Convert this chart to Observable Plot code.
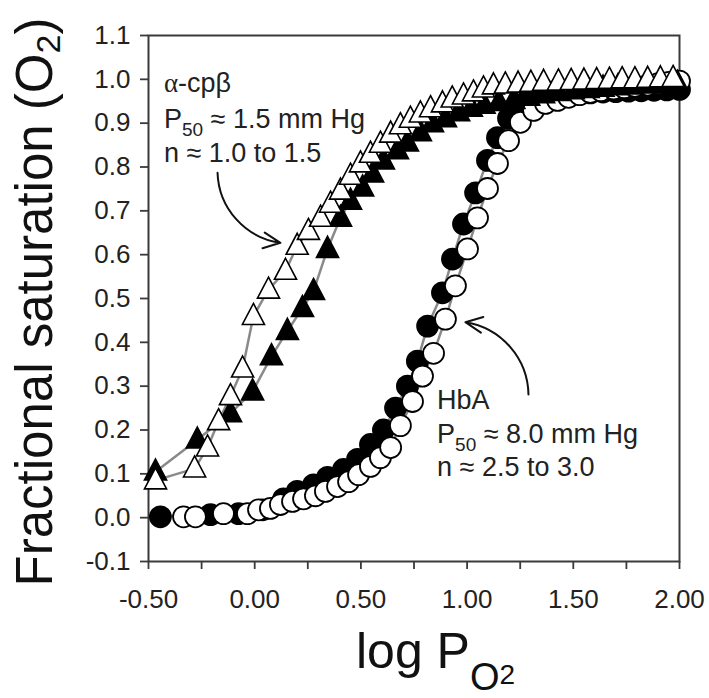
<!DOCTYPE html>
<html><head><meta charset="utf-8">
<script src="https://cdn.jsdelivr.net/npm/d3@7"></script>
<script src="https://cdn.jsdelivr.net/npm/@observablehq/plot@0.6"></script>
<style>
html,body{margin:0;padding:0;background:#fff;}
#chart svg{display:block;}
</style></head><body><div id="chart"></div>
<script>
// ---- data: alpha-cp-beta, open triangles ----
const openTriX = [-0.467,-0.283,-0.222,-0.17,-0.114,-0.057,-0.006,0.065,0.145,0.2,0.253,0.31,0.357,0.404,0.451,0.498,0.545,0.592,0.64,0.686,0.733,0.78,0.828,0.884,0.93,0.983,1.03,1.077,1.124,1.18,1.24,1.30,1.36,1.43,1.49,1.55,1.61,1.67,1.73,1.79,1.85,1.91,1.97];
const openTriY = [0.085,0.112,0.16,0.22,0.277,0.34,0.46,0.52,0.563,0.62,0.654,0.684,0.716,0.746,0.78,0.808,0.83,0.853,0.876,0.895,0.91,0.922,0.934,0.945,0.956,0.963,0.97,0.979,0.986,0.988,0.99,0.992,0.994,0.995,0.996,0.997,0.998,0.999,1.0,1.0,1.001,1.002,1.003];
// ---- alpha-cp-beta, filled triangles ----
const fillTriX = [-0.467,-0.27,-0.114,-0.01,0.079,0.154,0.225,0.277,0.343,0.404,0.451,0.508,0.555,0.606,0.672,0.719,0.78,0.837,0.898,0.96,1.02,1.08,1.15,1.22,1.29,1.36,1.43,1.50,1.57,1.64,1.71,1.78,1.85,1.92,1.99];
const fillTriY = [0.105,0.178,0.238,0.288,0.368,0.426,0.478,0.517,0.613,0.684,0.723,0.753,0.785,0.815,0.838,0.856,0.879,0.9,0.911,0.925,0.935,0.942,0.948,0.953,0.96,0.966,0.971,0.975,0.978,0.981,0.984,0.986,0.988,0.99,0.992];
// ---- HbA, filled circles ----
const fillCirX = [-0.444,-0.208,-0.076,0.037,0.136,0.2,0.277,0.343,0.418,0.484,0.545,0.606,0.663,0.719,0.766,0.814,0.884,0.931,0.983,1.04,1.096,1.143,1.195,1.242,1.284,1.34,1.40,1.46,1.52,1.58,1.64,1.70,1.76,1.82,1.88,1.94,2.0];
const fillCirY = [0.002,0.007,0.009,0.018,0.043,0.06,0.075,0.092,0.11,0.133,0.167,0.2,0.25,0.3,0.357,0.437,0.513,0.59,0.67,0.741,0.815,0.867,0.911,0.94,0.952,0.958,0.962,0.965,0.967,0.969,0.971,0.972,0.973,0.974,0.975,0.976,0.977];
// ---- HbA, open circles ----
const openCirX = [-0.335,-0.279,-0.147,-0.034,0.018,0.074,0.121,0.178,0.23,0.286,0.333,0.39,0.442,0.489,0.545,0.592,0.64,0.686,0.743,0.79,0.842,0.898,0.945,1.002,1.049,1.096,1.143,1.195,1.251,1.313,1.369,1.426,1.478,1.53,1.58,1.63,1.69,1.74,1.79,1.85,1.90,1.95,2.0];
const openCirY = [0.002,0.002,0.009,0.009,0.018,0.021,0.03,0.037,0.043,0.05,0.06,0.071,0.082,0.098,0.117,0.137,0.16,0.21,0.265,0.323,0.375,0.453,0.529,0.613,0.684,0.751,0.808,0.86,0.902,0.929,0.945,0.952,0.959,0.965,0.97,0.974,0.978,0.981,0.984,0.987,0.99,0.993,0.996];

// ---- axes ----
const xTicks = [-0.5,-0.25,0,0.25,0.5,0.75,1,1.25,1.5,1.75,2];
const yTicks = [-0.1,0,0.1,0.2,0.3,0.4,0.5,0.6,0.7,0.8,0.9,1.0,1.1];
const xDomain = [-0.5, 2.0];
const yDomain = [-0.1, 1.1];

// ---- annotations ----
const annoX = [-0.425,-0.425,-0.425,0.861,0.861,0.861];
const annoY = [0.970,0.888,0.81,0.247,0.169,0.094];
const annoText = ["α-cpβ","P_50_ ≈ 1.5 mm Hg","n ≈ 1.0 to 1.5","HbA","P_50_ ≈ 8.0 mm Hg","n ≈ 2.5 to 3.0"];
const arrowX1 = [-0.175, 1.289];
const arrowY1 = [0.787, 0.281];
const arrowX2 = [0.121, 0.992];
const arrowY2 = [0.627, 0.446];

const toRows = (xs, ys) => xs.map((x, i) => ({x, y: ys[i]}));
const openTri = toRows(openTriX, openTriY);
const fillTri = toRows(fillTriX, fillTriY);
const fillCir = toRows(fillCirX, fillCirY);
const openCir = toRows(openCirX, openCirY);
const arrows = arrowX1.map((x1, i) => ({x1, y1: arrowY1[i], x2: arrowX2[i], y2: arrowY2[i]}));

const triSym = {draw(ctx, size) {
  const h = Math.sqrt(size * 2), w = h * 1.05;
  ctx.moveTo(0, -h * 0.6); ctx.lineTo(w / 2, h * 0.4); ctx.lineTo(-w / 2, h * 0.4); ctx.closePath();
}};

const FONT = "'Liberation Sans', Arial, Helvetica, sans-serif";
const lineStyle = {x: "x", y: "y", stroke: "#8a8a8a", strokeWidth: 2.5};
const circR = 10.5, triR = 8.4;
const frameStyle = {stroke: "#3a3a3a", strokeWidth: 2};

const plot = Plot.plot({
  width: 709, height: 698,
  marginLeft: 148, marginRight: 30, marginTop: 35, marginBottom: 137,
  x: {domain: xDomain},
  y: {domain: yDomain},
  style: {fontFamily: FONT, background: "white", color: "#222"},
  marks: [
    Plot.axisX({ticks: xTicks, tickFormat: d => Math.abs(d * 2 - Math.round(d * 2)) < 1e-9 ? d.toFixed(2) : "", tickSize: 8, tickPadding: 20, fontSize: 26, label: null, stroke: "#3a3a3a", strokeWidth: 1.8}),
    Plot.axisY({ticks: yTicks, tickFormat: d => d.toFixed(1), tickSize: 8, tickPadding: 10, fontSize: 26, label: null, stroke: "#3a3a3a", strokeWidth: 1.8}),
    Plot.frame(frameStyle),
    Plot.line(fillCir, lineStyle),
    Plot.line(openCir, lineStyle),
    Plot.line(fillTri, lineStyle),
    Plot.line(openTri, lineStyle),
    Plot.dot(fillCir, {x: "x", y: "y", r: circR, fill: "black", stroke: "black", strokeWidth: 1.8}),
    Plot.dot(openCir, {x: "x", y: "y", r: circR, fill: "white", stroke: "black", strokeWidth: 1.8}),
    Plot.dot(fillTri, {x: "x", y: "y", r: triR, symbol: triSym, fill: "black", stroke: "black", strokeWidth: 1.6}),
    Plot.dot(openTri, {x: "x", y: "y", r: triR, symbol: triSym, fill: "white", stroke: "black", strokeWidth: 1.6}),
    Plot.arrow(arrows, {x1: "x1", y1: "y1", x2: "x2", y2: "y2", bend: -40, stroke: "#111", strokeWidth: 2, headLength: 14, headAngle: 50})
  ]
});

const svg = d3.select(plot);
const sx = plot.scale("x"), sy = plot.scale("y");
// annotation text with subscripts
annoText.forEach((t, i) => {
  const txt = svg.append("text")
    .attr("x", sx.apply(annoX[i])).attr("y", sy.apply(annoY[i]))
    .attr("text-anchor", "start")
    .attr("font-family", FONT).attr("font-size", 27).attr("fill", "#222");
  const parts = t.split("_");
  parts.forEach((p, j) => {
    if (j % 2 === 1) {
      txt.append("tspan").attr("font-size", 19).attr("dy", 8).text(p);
    } else if (j > 0) {
      txt.append("tspan").attr("dy", -8).text(p);
    } else if (p.startsWith("α")) {
      txt.append("tspan").attr("font-family", "'Liberation Serif', serif").text("α");
      txt.append("tspan").text(p.slice(1));
    } else {
      txt.append("tspan").text(p);
    }
  });
});
// y title
const yt = svg.append("text")
  .attr("transform", "translate(52,302) rotate(-90)")
  .attr("text-anchor", "middle").attr("font-family", FONT).attr("font-size", 51).attr("fill", "#111");
yt.append("tspan").text("Fractional saturation (O");
yt.append("tspan").attr("font-size", 34).attr("dy", 8).text("2");
yt.append("tspan").attr("dy", -8).text(")");
// x title
const xt = svg.append("text")
  .attr("x", 356).attr("y", 668).attr("text-anchor", "start")
  .attr("font-family", FONT).attr("font-size", 50).attr("fill", "#111");
xt.append("tspan").text("log P");
xt.append("tspan").attr("font-size", 38).attr("dy", 22).text("O");
xt.append("tspan").attr("font-size", 28).attr("dy", -6).text("2");

document.getElementById("chart").appendChild(plot);
</script>
</body></html>
